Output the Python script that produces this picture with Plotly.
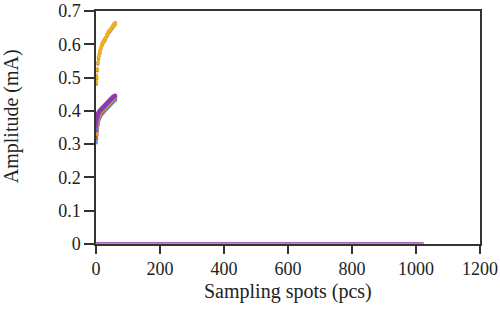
import plotly.graph_objects as go

# Upper cluster (yellow/orange series)
upper_x = [1, 2, 4, 6, 8, 10, 12, 14, 16, 18, 20, 22, 24, 26, 28, 30, 34, 36, 38, 41, 44, 47, 50, 53, 56, 58, 60]
upper_y = [0.485, 0.50, 0.525, 0.545, 0.56, 0.57, 0.578, 0.585, 0.592, 0.598, 0.603, 0.607, 0.61, 0.613, 0.616, 0.62, 0.628, 0.632, 0.636, 0.64, 0.643, 0.647, 0.652, 0.655, 0.66, 0.662, 0.665]
upper_y2 = [0.48, 0.495, 0.52, 0.54, 0.555, 0.565, 0.573, 0.58, 0.587, 0.593, 0.598, 0.602, 0.605, 0.608, 0.611, 0.615, 0.623, 0.627, 0.631, 0.635, 0.638, 0.642, 0.647, 0.65, 0.655, 0.657, 0.66]

# Lower cluster series
lower_x = [0, 1, 2, 3, 4, 5, 6, 8, 10, 12, 15, 18, 21, 24, 27, 30, 33, 36, 39, 42, 45, 48, 51, 54, 57, 60]
lower_purple = [0.36, 0.37, 0.378, 0.384, 0.388, 0.391, 0.393, 0.396, 0.399, 0.402, 0.405, 0.408, 0.411, 0.414, 0.417, 0.42, 0.423, 0.426, 0.429, 0.432, 0.435, 0.438, 0.441, 0.443, 0.445, 0.446]
lower_violet = [0.34, 0.352, 0.362, 0.37, 0.376, 0.381, 0.385, 0.39, 0.394, 0.397, 0.4, 0.403, 0.406, 0.409, 0.412, 0.415, 0.418, 0.421, 0.424, 0.427, 0.43, 0.433, 0.436, 0.439, 0.441, 0.443]
lower_red = [0.32, 0.33, 0.342, 0.352, 0.36, 0.367, 0.372, 0.378, 0.383, 0.387, 0.392, 0.395, 0.398, 0.402, 0.405, 0.408, 0.411, 0.414, 0.417, 0.42, 0.423, 0.426, 0.429, 0.432, 0.435, 0.437]
lower_orange = [0.33, 0.34, 0.35, 0.358, 0.365, 0.371, 0.376, 0.382, 0.387, 0.391, 0.396, 0.399, 0.402, 0.405, 0.408, 0.411, 0.414, 0.417, 0.42, 0.423, 0.426, 0.429, 0.432, 0.435, 0.438, 0.44]
lower_blue = [0.305, 0.315, 0.328, 0.338, 0.348, 0.356, 0.363, 0.37, 0.376, 0.381, 0.386, 0.39, 0.393, 0.397, 0.4, 0.403, 0.406, 0.409, 0.412, 0.415, 0.418, 0.421, 0.424, 0.427, 0.43, 0.432]

# Zero series spanning all sampling spots
zero_x = [0, 1024]
zero_y = [0, 0]

x_ticks = [0, 200, 400, 600, 800, 1000, 1200]
y_ticks = [0, 0.1, 0.2, 0.3, 0.4, 0.5, 0.6, 0.7]
y_tick_text = ["0", "0.1", "0.2", "0.3", "0.4", "0.5", "0.6", "0.7"]

fig = go.Figure()

fig.add_trace(go.Scatter(x=zero_x, y=zero_y, mode="lines",
                         line=dict(color="#A865C0", width=4), showlegend=False))
fig.add_trace(go.Scatter(x=zero_x, y=zero_y, mode="lines",
                         line=dict(color="#EDA020", width=1.5), showlegend=False))

lower_series = [
    (lower_blue, "#5A9AD0"),
    (lower_red, "#D9452B"),
    (lower_orange, "#E8A030"),
    (lower_violet, "#6A5ACD"),
    (lower_purple, "#8E3AA8"),
]
for ys, col in lower_series:
    fig.add_trace(go.Scatter(x=lower_x, y=ys, mode="markers+lines",
                             line=dict(color=col, width=2, dash="dot"),
                             marker=dict(color=col, size=4), showlegend=False))

fig.add_trace(go.Scatter(x=upper_x, y=upper_y2, mode="markers",
                         marker=dict(color="#8A7A8A", size=3), showlegend=False))
fig.add_trace(go.Scatter(x=upper_x, y=upper_y, mode="markers+lines",
                         line=dict(color="#EDB120", width=2, dash="dot"),
                         marker=dict(color="#EDB120", size=4), showlegend=False))

font_family = "Liberation Serif, DejaVu Serif, serif"

fig.update_layout(
    width=500, height=327,
    margin=dict(l=96, r=20, t=11, b=83, autoexpand=False),
    paper_bgcolor="white", plot_bgcolor="white",
    font=dict(family=font_family, size=18, color="#222"),
    xaxis=dict(range=[0, 1200], tickvals=x_ticks, ticks="outside", ticklen=8, tickwidth=1.5,
               tickcolor="#333", showline=True, linecolor="#333", linewidth=1.5,
               mirror=True, showgrid=False, zeroline=False, automargin=False,
               tickfont=dict(size=18)),
    yaxis=dict(range=[0, 0.7], tickvals=y_ticks, ticktext=y_tick_text, ticks="outside",
               ticklen=10, tickwidth=1.5, tickcolor="#333", showline=True, linecolor="#333",
               linewidth=1.5, mirror=True, showgrid=False, zeroline=False, automargin=False,
               tickfont=dict(size=18)),
    annotations=[
        dict(text="Sampling spots (pcs)", xref="paper", yref="paper", x=0.5, y=-0.206,
             xanchor="center", yanchor="middle", showarrow=False, font=dict(size=20)),
        dict(text="Amplitude (mA)", xref="paper", yref="paper", x=-0.221, y=0.549,
             xanchor="center", yanchor="middle", textangle=-90, showarrow=False,
             font=dict(size=20)),
    ],
)

fig.write_html("out.html")
